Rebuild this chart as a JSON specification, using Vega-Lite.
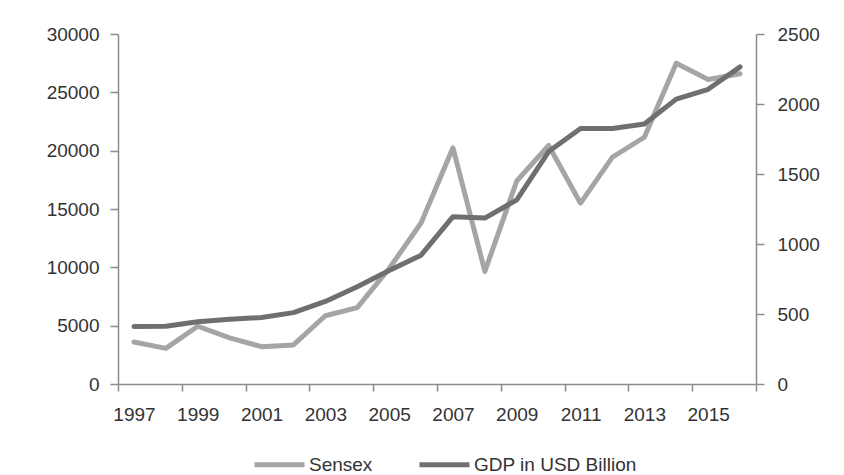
{
  "$schema": "https://vega.github.io/schema/vega-lite/v6.json",
  "width": 638,
  "height": 350,
  "autosize": {"type": "none"},
  "padding": {"left": 118, "top": 34, "right": 88, "bottom": 91},
  "background": "white",
  "config": {
    "view": {"stroke": null},
    "font": "Liberation Sans",
    "axis": {
      "grid": false,
      "domainColor": "#8c8c8c",
      "domainWidth": 1.5,
      "tickColor": "#8c8c8c",
      "tickWidth": 1.5,
      "labelFont": "Liberation Sans",
      "labelFontSize": 19,
      "labelColor": "#333333",
      "title": null
    },
    "legend": {
      "labelFont": "Liberation Sans",
      "labelFontSize": 19,
      "labelColor": "#333333",
      "labelLimit": 400
    }
  },
  "data": {
    "values": [
      {"year": 1997, "series": "Sensex", "value": 3600},
      {"year": 1998, "series": "Sensex", "value": 3050},
      {"year": 1999, "series": "Sensex", "value": 4950},
      {"year": 2000, "series": "Sensex", "value": 3950},
      {"year": 2001, "series": "Sensex", "value": 3200},
      {"year": 2002, "series": "Sensex", "value": 3350},
      {"year": 2003, "series": "Sensex", "value": 5850},
      {"year": 2004, "series": "Sensex", "value": 6550},
      {"year": 2005, "series": "Sensex", "value": 9900},
      {"year": 2006, "series": "Sensex", "value": 13800},
      {"year": 2007, "series": "Sensex", "value": 20250},
      {"year": 2008, "series": "Sensex", "value": 9650},
      {"year": 2009, "series": "Sensex", "value": 17400},
      {"year": 2010, "series": "Sensex", "value": 20450},
      {"year": 2011, "series": "Sensex", "value": 15500},
      {"year": 2012, "series": "Sensex", "value": 19450},
      {"year": 2013, "series": "Sensex", "value": 21150},
      {"year": 2014, "series": "Sensex", "value": 27500},
      {"year": 2015, "series": "Sensex", "value": 26100},
      {"year": 2016, "series": "Sensex", "value": 26600},
      {"year": 1997, "series": "GDP in USD Billion", "value": 410},
      {"year": 1998, "series": "GDP in USD Billion", "value": 412},
      {"year": 1999, "series": "GDP in USD Billion", "value": 445},
      {"year": 2000, "series": "GDP in USD Billion", "value": 462},
      {"year": 2001, "series": "GDP in USD Billion", "value": 475},
      {"year": 2002, "series": "GDP in USD Billion", "value": 510},
      {"year": 2003, "series": "GDP in USD Billion", "value": 590},
      {"year": 2004, "series": "GDP in USD Billion", "value": 695},
      {"year": 2005, "series": "GDP in USD Billion", "value": 810},
      {"year": 2006, "series": "GDP in USD Billion", "value": 920},
      {"year": 2007, "series": "GDP in USD Billion", "value": 1195},
      {"year": 2008, "series": "GDP in USD Billion", "value": 1185},
      {"year": 2009, "series": "GDP in USD Billion", "value": 1315},
      {"year": 2010, "series": "GDP in USD Billion", "value": 1660},
      {"year": 2011, "series": "GDP in USD Billion", "value": 1825},
      {"year": 2012, "series": "GDP in USD Billion", "value": 1825},
      {"year": 2013, "series": "GDP in USD Billion", "value": 1857},
      {"year": 2014, "series": "GDP in USD Billion", "value": 2035},
      {"year": 2015, "series": "GDP in USD Billion", "value": 2105},
      {"year": 2016, "series": "GDP in USD Billion", "value": 2265}
    ]
  },
  "layer": [
    {
      "transform": [{"filter": "datum.series === 'Sensex'"}],
      "mark": {"type": "line", "strokeWidth": 5, "strokeCap": "round", "strokeJoin": "round"},
      "encoding": {
        "x": {
          "field": "year", "type": "quantitative",
          "scale": {"domain": [1996.5, 2016.5], "nice": false, "zero": false},
          "axis": {
            "orient": "bottom",
            "values": [1996.5, 1998.5, 2000.5, 2002.5, 2004.5, 2006.5, 2008.5, 2010.5, 2012.5, 2014.5, 2016.5],
            "labels": false,
            "tickSize": 7
          }
        },
        "y": {
          "field": "value", "type": "quantitative",
          "scale": {"domain": [0, 30000], "nice": false},
          "axis": {
            "orient": "left",
            "values": [0, 5000, 10000, 15000, 20000, 25000, 30000],
            "format": "d",
            "tickSize": 8,
            "labelPadding": 11
          }
        },
        "color": {
          "field": "series", "type": "nominal",
          "scale": {"domain": ["Sensex", "GDP in USD Billion"], "range": ["#a5a5a5", "#6f6f6f"]},
          "legend": {
            "orient": "none",
            "direction": "horizontal",
            "legendX": 134,
            "legendY": 403,
            "title": null,
            "symbolType": "stroke",
            "symbolSize": 2500,
            "symbolStrokeWidth": 5,
            "labelOffset": 2,
            "columnPadding": 36
          }
        }
      }
    },
    {
      "transform": [{"filter": "datum.series === 'GDP in USD Billion'"}],
      "mark": {"type": "line", "strokeWidth": 5, "strokeCap": "round", "strokeJoin": "round"},
      "encoding": {
        "x": {
          "field": "year", "type": "quantitative",
          "scale": {"domain": [1996.5, 2016.5], "nice": false, "zero": false},
          "axis": {
            "orient": "bottom",
            "values": [1997, 1999, 2001, 2003, 2005, 2007, 2009, 2011, 2013, 2015],
            "format": "d",
            "domain": false,
            "ticks": false,
            "labelPadding": 21
          }
        },
        "y": {
          "field": "value", "type": "quantitative",
          "scale": {"domain": [0, 2500], "nice": false},
          "axis": {
            "orient": "right",
            "values": [0, 500, 1000, 1500, 2000, 2500],
            "format": "d",
            "tickSize": 8,
            "labelPadding": 13
          }
        },
        "color": {
          "field": "series", "type": "nominal"
        }
      }
    }
  ],
  "resolve": {"scale": {"y": "independent"}, "axis": {"x": "independent"}}
}
